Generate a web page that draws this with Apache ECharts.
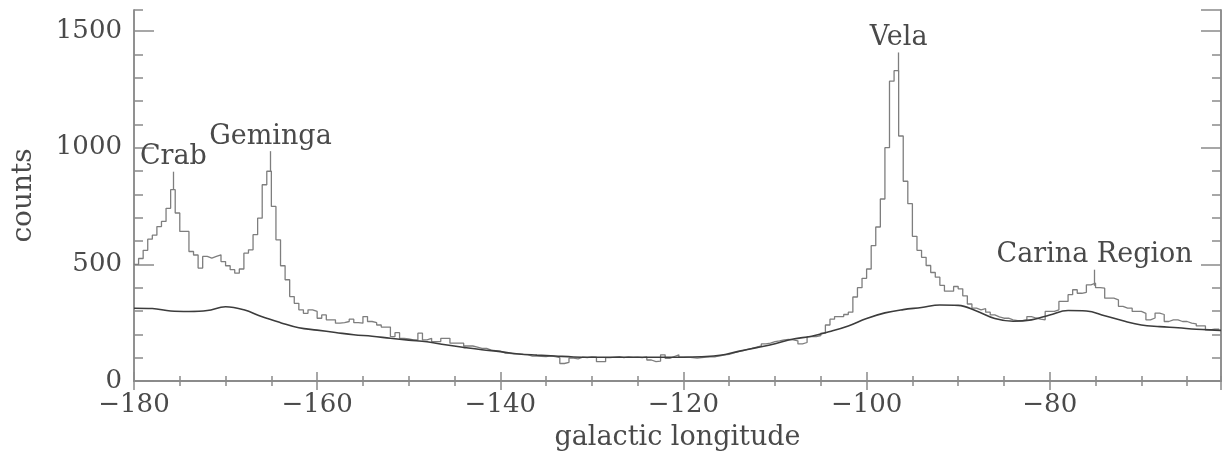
<!DOCTYPE html>
<html>
<head>
<meta charset="utf-8">
<script src="https://cdn.jsdelivr.net/npm/echarts@6/dist/echarts.min.js"></script>
<style>
  html, body { margin: 0; padding: 0; background: #fff; }
  #chart { width: 1222px; height: 456px; }
</style>
</head>
<body>
<div id="chart"></div>
<script>
// histogram: 0.5 degree bins starting at -180
const lonStart = -180
const binWidth = 0.5
const counts = [
  500, 525, 560, 608, 625, 662, 684, 740, 820, 720,
  641, 641, 555, 540, 484, 534, 527, 534, 541, 512,
  494, 477, 462, 480, 548, 562, 627, 698, 841, 899,
  748, 605, 494, 434, 362, 333, 305, 290, 305, 298,
  269, 283, 262, 262, 248, 250, 255, 265, 250, 248,
  276, 255, 250, 240, 231, 231, 190, 207, 183, 180,
  176, 176, 205, 176, 183, 169, 169, 183, 183, 162,
  162, 162, 150, 150, 145, 140, 140, 132, 130, 128,
  120, 119, 116, 116, 114, 113, 107, 107, 106, 105,
  108, 104, 100, 75, 80, 98, 95, 102, 100, 103,
  102, 83, 83, 100, 102, 104, 100, 103, 101, 102,
  100, 103, 90, 83, 85, 112, 97, 105, 112, 102,
  102, 100, 98, 100, 102, 103, 104, 108, 112, 114,
  120, 126, 130, 136, 140, 145, 150, 159, 162, 169,
  172, 176, 178, 176, 172, 159, 165, 190, 190, 195,
  205, 240, 265, 276, 276, 285, 295, 360, 400, 440,
  480, 580, 660, 780, 1000, 1285, 1330, 1050, 856, 760,
  620, 560, 530, 495, 465, 445, 410, 385, 385, 405,
  395, 365, 330, 312, 305, 310, 295, 283, 275, 269,
  269, 262, 259, 259, 262, 276, 270, 265, 262, 298,
  298, 305, 341, 341, 370, 391, 376, 380, 412, 419,
  400, 398, 355, 355, 348, 320, 312, 312, 298, 298,
  290, 262, 270, 291, 285, 255, 262, 262, 255, 255,
  248, 245, 236, 236, 219, 222, 222
]

// smooth background model
const bgLon = [
  -180, -178, -176, -174, -172, -170, -168, -166, -164, -162,
  -160, -158, -156, -154, -152, -150, -148, -146, -144, -142,
  -140, -138, -136, -134, -132, -130, -128, -126, -124, -122,
  -120, -118, -116, -114, -112, -110, -108, -106, -104, -102,
  -100, -98, -96, -94, -92, -90, -88, -86, -84, -82,
  -80, -78, -76, -74, -72, -70, -68, -66, -64, -62, -61.3
]
const bgCounts = [
  312, 311, 300, 298, 302, 318, 305, 275, 250, 228,
  218, 208, 198, 192, 183, 175, 168, 155, 144, 134,
  126, 116, 111, 107, 103, 102, 102, 102, 102, 102,
  102, 104, 110, 127, 143, 160, 180, 192, 212, 236,
  268, 292, 306, 315, 326, 324, 300, 268, 256, 262,
  283, 302, 300, 280, 258, 240, 233, 228, 222, 218, 217
]

// source annotations
const peakNames = ['Crab', 'Geminga', 'Vela', 'Carina Region']
const peakLon = [-175.7, -165.1, -96.5, -75.1]
const peakLow = [820, 899, 1327, 408]
const peakHigh = [897, 985, 1408, 477]

const xMin = -180, xMax = -61.3
const yMin = 0, yMax = 1590

const fontFamily = 'DejaVu Serif'
const axisColor = '#8a8a8a'
const textColor = '#4a4a4a'

let histData = counts.map(function (c, i) { return [lonStart + i * binWidth, c] })
histData.push([lonStart + counts.length * binWidth, counts[counts.length - 1]])

let bgData = bgLon.map(function (x, i) { return [x, bgCounts[i]] })

let markData = peakNames.map(function (name, i) {
  return [
    { name: name, coord: [peakLon[i], peakLow[i]] },
    { coord: [peakLon[i], peakHigh[i]] }
  ]
})

function minusFmt (v) {
  return v < 0 ? '\u2212' + Math.abs(v) : String(v)
}

function xAxisDef (pos, interval, len, withLabels) {
  return {
    type: 'value',
    position: pos,
    min: xMin,
    max: xMax,
    interval: interval,
    axisLine: { show: true, lineStyle: { color: axisColor, width: 1.5 } },
    axisTick: { show: true, inside: true, length: len, lineStyle: { color: axisColor, width: 1.5 } },
    axisLabel: {
      show: withLabels,
      showMaxLabel: false,
      margin: 11,
      formatter: minusFmt,
      fontFamily: fontFamily,
      fontSize: 26,
      color: textColor
    },
    splitLine: { show: false },
    name: withLabels ? 'galactic longitude' : '',
    nameLocation: 'middle',
    nameGap: 43,
    nameTextStyle: { fontFamily: fontFamily, fontSize: 27, color: textColor }
  }
}

function yAxisDef (pos, interval, len, withLabels) {
  return {
    type: 'value',
    position: pos,
    min: yMin,
    max: yMax,
    interval: interval,
    axisLine: { show: true, onZero: false, lineStyle: { color: axisColor, width: 1.5 } },
    axisTick: { show: true, inside: true, length: len, lineStyle: { color: axisColor, width: 1.5 } },
    axisLabel: {
      show: withLabels,
      showMaxLabel: false,
      margin: 12,
      formatter: function (v) { return String(v) },
      fontFamily: fontFamily,
      fontSize: 26,
      color: textColor
    },
    splitLine: { show: false },
    name: withLabels ? 'counts' : '',
    nameLocation: 'middle',
    nameGap: 96,
    nameTextStyle: { fontFamily: fontFamily, fontSize: 28, color: textColor }
  }
}

let myChart = echarts.init(document.getElementById('chart'), null, { renderer: 'canvas' })

let option = {
  backgroundColor: '#ffffff',
  animation: false,
  grid: { left: 134, right: 1, top: 10, bottom: 75, containLabel: false, outerBoundsMode: 'none' },
  xAxis: [
    xAxisDef('bottom', 20, 9, true),
    xAxisDef('bottom', 5, 5, false),
    xAxisDef('top', 20, 9, false),
    xAxisDef('top', 5, 5, false)
  ],
  yAxis: [
    yAxisDef('left', 500, 20, true),
    yAxisDef('left', 100, 9, false),
    yAxisDef('right', 500, 20, false),
    yAxisDef('right', 100, 9, false)
  ],
  series: [
    {
      name: 'background',
      type: 'line',
      xAxisIndex: 0,
      yAxisIndex: 0,
      data: bgData,
      smooth: 0.4,
      showSymbol: false,
      lineStyle: { color: '#3c3c3c', width: 1.6 },
      z: 3
    },
    {
      name: 'counts',
      type: 'line',
      xAxisIndex: 0,
      yAxisIndex: 0,
      data: histData,
      step: 'end',
      showSymbol: false,
      lineStyle: { color: '#7e7e7e', width: 1.3 },
      z: 2,
      markLine: {
        silent: true,
        symbol: 'none',
        lineStyle: { color: '#7e7e7e', width: 1.3, type: 'solid' },
        label: {
          show: true,
          position: 'end',
          distance: 1,
          formatter: '{b}',
          fontFamily: fontFamily,
          fontSize: 27,
          color: textColor
        },
        data: markData
      }
    }
  ]
}
myChart.setOption(option, true)
</script>
</body>
</html>
